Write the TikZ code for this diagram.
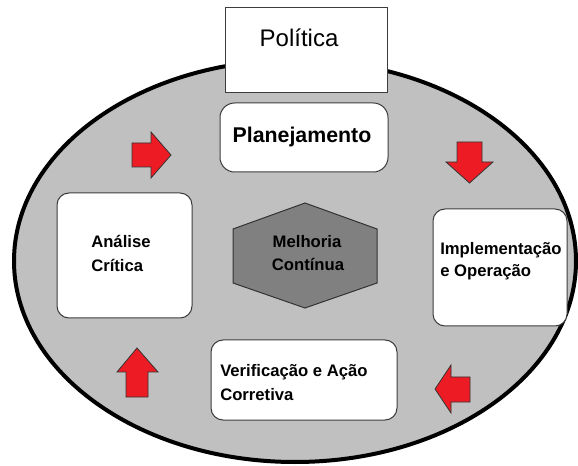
\documentclass[tikz,border=0pt]{standalone}
\usepackage{fontspec}
\setmainfont{Liberation Sans}
\definecolor{ringgray}{RGB}{192,192,192}
\definecolor{hexgray}{RGB}{128,128,128}
\definecolor{arrred}{RGB}{237,28,36}
\definecolor{edgegray}{RGB}{60,60,60}
\tikzset{
  rbox/.style={draw=edgegray, line width=0.75pt, fill=white, rounded corners=9pt, inner sep=0pt},
  pbox/.style={draw=edgegray, line width=0.75pt, fill=white, inner sep=0pt},
  lbl/.style={inner sep=0pt, font=\fontsize{12.5}{15}\selectfont\bfseries},
  blockarrow/.style={draw=black!80, line width=0.6pt, fill=arrred, line join=miter},
}
\begin{document}
\begin{tikzpicture}[x=0.75pt,y=-0.75pt]
\useasboundingbox (0,0) rectangle (578,466);
% outer ellipse
\draw[line width=3pt, fill=ringgray] (295,261) ellipse [x radius=210.75pt, y radius=150.75pt];
% Politica box
\node[pbox, minimum width=121.5pt, minimum height=63.75pt] (pol) at (306,50.5) {};
\node[inner sep=0pt, anchor=base, font=\fontsize{18}{20}\selectfont] (polT) at (299,47) {Política};
% Planejamento
\node[rbox, rounded corners=11pt, minimum width=126pt, minimum height=51.75pt] (plan) at (304,137.5) {};
\node[inner sep=0pt, anchor=base, font=\fontsize{16}{18}\selectfont\bfseries] (planT) at (302,143) {Planejamento};
% Analise critica
\node[rbox, minimum width=101.25pt, minimum height=93.75pt] (anal) at (124.5,255.5) {};
\node[lbl, anchor=base west] (analT1) at (91,248) {Análise};
\node[lbl, anchor=base west] (analT2) at (91,272) {Crítica};
% Implementacao
\node[rbox, minimum width=100.5pt, minimum height=87.75pt] (impl) at (500,267.5) {};
\node[lbl, anchor=base west] (implT1) at (440,255) {Implementação};
\node[lbl, anchor=base west] (implT2) at (440,277) {e Operação};
% Verificacao
\node[rbox, minimum width=139.5pt, minimum height=60pt] (verif) at (304,380) {};
\node[lbl, anchor=base west] (verifT1) at (220,377) {Verificação e Ação};
\node[lbl, anchor=base west] (verifT2) at (220,400) {Corretiva};
% hexagon
\draw[draw=black!80, line width=0.75pt, fill=hexgray] (305,203) -- (377,229) -- (377,283) -- (305,308) -- (233,283) -- (233,229) -- cycle;
\node[lbl, anchor=base] (melT1) at (307,248) {Melhoria};
\node[lbl, anchor=base] (melT2) at (308,271) {Contínua};
% red block arrows
\draw[blockarrow] (132,143) -- (151,143) -- (151,132) -- (171,155) -- (151,178) -- (151,167) -- (132,167) -- cycle;
\draw[blockarrow] (457,142) -- (482,142) -- (482,162) -- (493,162) -- (469.5,183) -- (446,162) -- (457,162) -- cycle;
\draw[blockarrow] (470,377) -- (451,377) -- (451,365) -- (435,389) -- (451,413) -- (451,402) -- (470,402) -- cycle;
\draw[blockarrow] (126,397) -- (126,372) -- (117,372) -- (137,348) -- (158,372) -- (148,372) -- (148,397) -- cycle;
\end{tikzpicture}
\end{document}
